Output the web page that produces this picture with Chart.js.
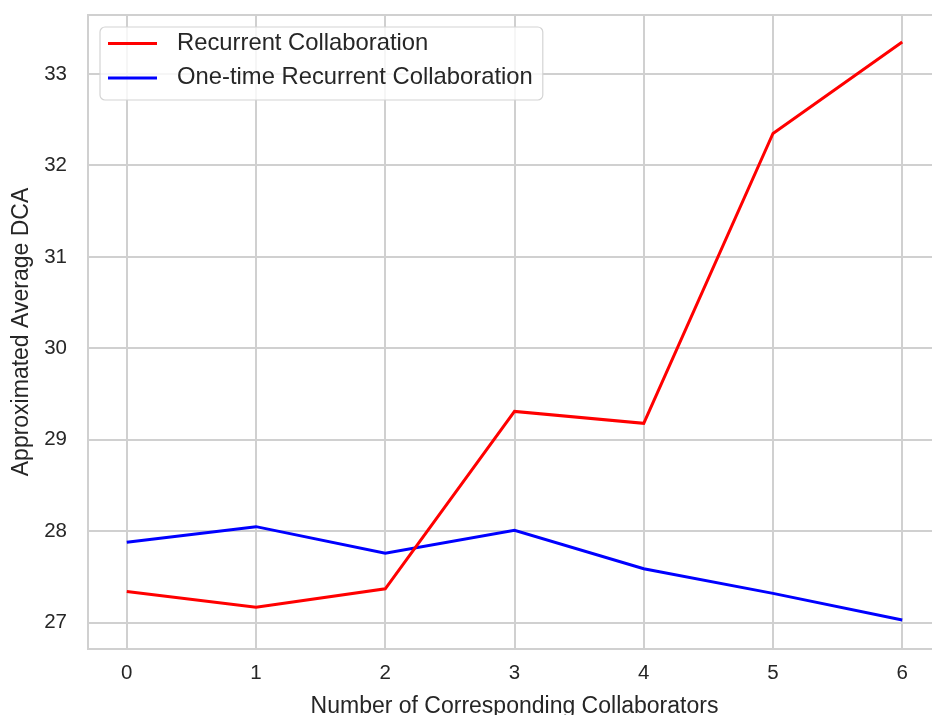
<!DOCTYPE html>
<html>
<head>
<meta charset="utf-8">
<script src="https://cdn.jsdelivr.net/npm/chart.js@4.4.1/dist/chart.umd.min.js"></script>
<style>
html,body{margin:0;padding:0;overflow:hidden;background:#fff;}
#wrap{width:941px;height:715px;}
</style>
</head>
<body>
<div id="wrap"><canvas id="c" width="941" height="715"></canvas></div>
<script>
const collaborators = [0, 1, 2, 3, 4, 5, 6];
const recurrent = [27.34, 27.17, 27.37, 29.31, 29.18, 32.35, 33.35];
const oneTime = [27.88, 28.05, 27.76, 28.01, 27.59, 27.32, 27.03];
const seriesNames = ['Recurrent Collaboration', 'One-time Recurrent Collaboration'];
const xTickValues = [0, 1, 2, 3, 4, 5, 6];
const yTickValues = [27, 28, 29, 30, 31, 32, 33];
const xTitle = 'Number of Corresponding Collaborators';
const yTitle = 'Approximated Average DCA';

const FONT = '"Liberation Sans", Arial, Helvetica, sans-serif';
const TXT = '#262626';
const GRID = '#d0d0d0';

const framePlugin = {
  id: 'frame',
  beforeDatasetsDraw(chart) {
    const {ctx, chartArea: a} = chart;
    ctx.save();
    ctx.strokeStyle = GRID;
    ctx.lineWidth = 2;
    ctx.strokeRect(a.left, a.top, a.right - a.left, a.bottom - a.top);
    ctx.restore();
  }
};

const legendPlugin = {
  id: 'boxLegend',
  afterDraw(chart) {
    const {ctx, chartArea: a} = chart;
    const fs = 23.8;
    ctx.save();
    ctx.font = fs + 'px ' + FONT;
    const ds = chart.data.datasets;
    let maxW = 0;
    ds.forEach(d => { maxW = Math.max(maxW, ctx.measureText(d.label).width); });
    const left = a.left + 12, top = a.top + 12;
    const w = 77 + maxW + 10, h = 73, r = 5;
    ctx.beginPath();
    ctx.moveTo(left + r, top);
    ctx.arcTo(left + w, top, left + w, top + h, r);
    ctx.arcTo(left + w, top + h, left, top + h, r);
    ctx.arcTo(left, top + h, left, top, r);
    ctx.arcTo(left, top, left + w, top, r);
    ctx.closePath();
    ctx.fillStyle = 'rgba(255,255,255,0.8)';
    ctx.fill();
    ctx.strokeStyle = '#d4d4d4';
    ctx.lineWidth = 1.2;
    ctx.stroke();
    ds.forEach((d, i) => {
      const y = top + 16.5 + i * 34.4;
      ctx.beginPath();
      ctx.moveTo(left + 8, y);
      ctx.lineTo(left + 57, y);
      ctx.strokeStyle = d.borderColor;
      ctx.lineWidth = 3;
      ctx.stroke();
      ctx.fillStyle = TXT;
      ctx.textBaseline = 'middle';
      ctx.textAlign = 'left';
      ctx.fillText(d.label, left + 77, y);
    });
    ctx.restore();
  }
};

new Chart(document.getElementById('c'), {
  type: 'line',
  data: {
    datasets: [
      {
        label: seriesNames[0],
        data: collaborators.map((x, i) => ({x, y: recurrent[i]})),
        borderColor: '#ff0000',
        backgroundColor: '#ff0000',
        borderWidth: 3,
        pointRadius: 0,
        tension: 0,
        fill: false
      },
      {
        label: seriesNames[1],
        data: collaborators.map((x, i) => ({x, y: oneTime[i]})),
        borderColor: '#0000ff',
        backgroundColor: '#0000ff',
        borderWidth: 3,
        pointRadius: 0,
        tension: 0,
        fill: false
      }
    ]
  },
  options: {
    responsive: false,
    animation: false,
    devicePixelRatio: 1,
    layout: {padding: {left: 0, right: 0, top: 15, bottom: 0}},
    plugins: {
      legend: {display: false},
      tooltip: {enabled: false}
    },
    scales: {
      x: {
        type: 'linear',
        min: -0.3,
        max: 6.3,
        afterBuildTicks(s) { s.ticks = xTickValues.map(v => ({value: v})); },
        afterFit(s) { s.height = 66; s.paddingLeft = 0; s.paddingRight = 0; },
        grid: {color: GRID, lineWidth: 2, drawTicks: false},
        border: {display: false},
        ticks: {
          color: TXT,
          font: {family: FONT, size: 20.5, lineHeight: 1.2},
          padding: 12,
          maxRotation: 0,
          autoSkip: false,
          callback: v => String(v)
        },
        title: {
          display: true,
          text: xTitle,
          color: TXT,
          font: {family: FONT, size: 23, lineHeight: 1.2},
          padding: {top: 0, bottom: -5}
        }
      },
      y: {
        type: 'linear',
        min: 26.712,
        max: 33.645,
        afterBuildTicks(s) { s.ticks = yTickValues.map(v => ({value: v})); },
        afterFit(s) { s.width = 88; s.paddingTop = 0; s.paddingBottom = 0; },
        grid: {color: GRID, lineWidth: 2, drawTicks: false},
        border: {display: false},
        ticks: {
          color: TXT,
          font: {family: FONT, size: 20.5, lineHeight: 1.2},
          padding: 21,
          autoSkip: false,
          callback: v => String(v)
        },
        title: {
          display: true,
          text: yTitle,
          color: TXT,
          font: {family: FONT, size: 23, lineHeight: 1.2},
          padding: {top: 8, bottom: 0}
        }
      }
    }
  },
  plugins: [framePlugin, legendPlugin]
});
</script>
</body>
</html>
